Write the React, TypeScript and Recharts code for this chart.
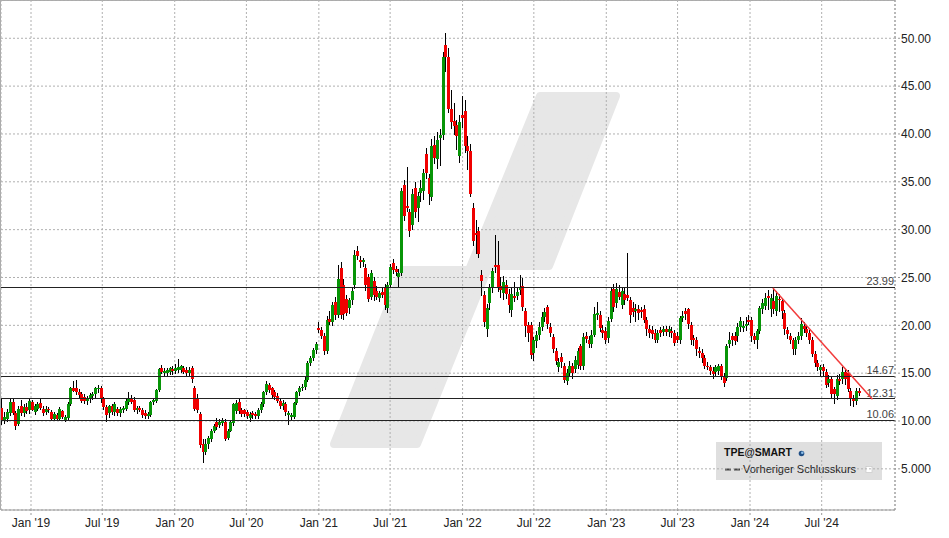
import React from 'react';
import { ComposedChart, Bar, XAxis, YAxis, CartesianGrid, ReferenceLine } from 'recharts';

const DAY = 86400000;
const WEEK = 7 * DAY;
const START = Date.UTC(2018, 9, 19);

const opens = [
  11.4, 10.1, 10.2, 10.8, 12.0, 10.8, 9.7, 11.6, 10.8, 11.5, 11.1, 12.0, 10.9, 11.3, 11.9, 11.3, 10.9, 11.3, 10.9, 10.2,
  10.6, 10.2, 11.0, 10.1, 10.3, 11.8, 13.5, 13.4, 13.0, 12.8, 12.5, 12.1, 12.3, 12.6, 12.8, 13.4, 13.5, 12.3, 11.5, 10.8,
  11.6, 10.9, 11.3, 10.8, 11.1, 11.3, 12.0, 12.4, 12.2, 11.1, 11.4, 11.2, 10.8, 10.5, 10.6, 12.0, 12.1, 13.2, 15.5, 15.0,
  15.0, 15.1, 15.4, 15.2, 15.3, 15.3, 15.5, 15.3, 15.0, 15.5, 13.5, 12.3, 10.7, 7.6, 6.8, 7.6, 8.1, 9.0, 9.9, 9.6,
  9.8, 9.9, 8.2, 9.0, 9.8, 11.0, 12.0, 11.1, 11.1, 10.9, 10.3, 10.8, 10.7, 10.5, 11.1, 11.8, 13.0, 13.8, 13.4, 13.0,
  12.6, 12.1, 11.6, 11.8, 10.6, 10.4, 10.4, 11.9, 13.0, 13.5, 13.6, 14.3, 16.1,
  16.6, 17.4, 19.7, 19.5, 18.9, 17.3, 20.7, 20.4, 22.4, 21.1, 26.0, 24.2, 22.7, 21.8, 22.6, 24.2, 27.8, 26.8, 26.6, 26.0,
  25.1, 23.0, 24.6, 23.6, 22.9, 23.5, 23.9, 21.8, 24.2, 26.5, 25.9, 25.1, 25.5, 34.7, 32.5, 31.8, 30.5, 34.4, 32.3, 33.8,
  34.0, 37.9, 35.4, 33.4, 38.8, 37.4, 39.6, 39.9, 49.3, 48.0, 42.6, 41.4, 40.9, 37.7, 42.0, 42.4, 38.7, 38.2, 32.3, 29.6,
  29.9, 25.3, 23.2, 19.6, 22.3, 23.9, 26.3, 26.3, 24.1, 23.4, 24.2, 23.3, 21.6, 23.1, 23.1, 23.7, 24.1, 21.5, 20.0, 20.0,
  17.1, 18.4, 19.0, 19.8, 20.9, 21.9, 19.8, 18.8, 17.3, 15.6, 16.7, 15.8, 14.2, 15.0, 15.7, 15.4, 15.9, 17.8, 15.7, 18.9,
  18.5, 18.0, 19.0, 21.1, 21.1, 19.5, 19.4, 18.7, 20.7, 23.8, 22.3, 23.5, 22.1, 23.3, 23.2, 22.6, 21.8,
  21.5, 21.7, 21.6, 21.7, 20.6, 19.6, 19.5, 19.2, 18.5, 19.5, 19.3, 19.6, 19.3, 19.4, 19.2, 18.9, 18.5, 20.8, 21.5, 21.7,
  20.0, 18.7, 18.5, 17.3, 17.1, 16.6, 15.8, 15.6, 15.2, 15.1, 15.2, 15.8, 14.7, 14.5, 18.0, 18.9, 18.9, 18.9, 19.8, 19.8,
  19.9, 20.6, 20.6, 18.9, 18.5, 19.4, 21.7, 22.0, 23.1, 21.7, 22.5, 21.5, 22.8, 22.5, 21.3, 19.5, 18.9, 18.5, 17.5, 18.5,
  18.9, 19.9, 19.6, 19.2, 18.5, 17.0, 16.1, 15.3, 15.6, 15.1, 14.0, 14.4, 13.3, 12.6, 14.4, 14.4, 15.1, 15.0, 13.1, 12.4,
  12.1, 13.1,
];

const highs = [
  12.3, 10.9, 11.3, 12.4, 12.3, 11.0, 11.6, 12.2, 11.8, 11.9, 12.4, 12.2, 11.8, 12.0, 12.4, 11.6, 11.6, 11.5, 11.1, 10.9,
  10.8, 11.5, 11.2, 10.6, 12.0, 13.6, 14.2, 14.3, 13.3, 13.0, 12.8, 12.6, 12.9, 13.0, 13.6, 13.8, 13.7, 12.5, 11.7, 11.7,
  11.8, 12.0, 11.5, 11.5, 11.6, 12.3, 13.0, 12.7, 12.5, 11.6, 11.6, 11.4, 11.1, 10.9, 12.1, 12.4, 13.3, 15.5, 15.9, 15.5,
  15.5, 15.6, 15.8, 16.0, 16.5, 15.9, 15.8, 15.6, 15.6, 15.7, 13.7, 12.8, 10.9, 8.1, 8.1, 8.4, 9.2, 9.7, 10.3, 10.2,
  10.3, 10.2, 9.2, 10.1, 11.9, 12.2, 12.3, 11.4, 11.3, 11.1, 10.9, 11.0, 10.9, 11.4, 12.0, 13.1, 14.2, 14.0, 13.6, 13.2,
  12.9, 12.4, 12.2, 12.0, 11.0, 10.8, 12.0, 13.1, 13.7, 13.9, 14.6, 16.3, 16.8,
  17.6, 18.3, 20.3, 19.8, 19.2, 21.0, 21.5, 22.4, 23.0, 26.3, 26.6, 24.8, 23.2, 22.9, 24.0, 27.9, 28.3, 27.2, 27.0, 26.4,
  25.4, 25.8, 25.0, 24.1, 23.6, 24.0, 24.3, 24.5, 26.4, 26.9, 26.2, 25.9, 34.3, 35.2, 36.5, 32.2, 34.2, 35.0, 33.9, 35.2,
  36.3, 38.5, 35.8, 39.5, 39.8, 40.2, 40.5, 48.6, 50.6, 49.0, 44.6, 43.2, 41.5, 42.0, 44.0, 43.5, 39.8, 38.9, 32.8, 31.0,
  30.3, 25.8, 23.6, 22.2, 24.3, 26.0, 29.4, 28.8, 25.0, 25.2, 24.7, 23.8, 23.9, 24.5, 24.0, 25.3, 24.9, 21.8, 20.4, 20.3,
  18.8, 19.4, 20.3, 21.4, 21.8, 22.1, 20.2, 19.1, 17.6, 16.6, 17.1, 16.1, 15.4, 16.3, 16.1, 16.8, 17.6, 18.1, 19.2, 19.3,
  18.9, 19.5, 21.9, 22.4, 21.5, 20.0, 19.8, 20.9, 24.0, 24.3, 24.4, 24.2, 24.0, 23.9, 27.6, 23.0, 22.4,
  22.2, 22.1, 21.9, 22.1, 20.9, 20.0, 19.9, 19.6, 19.5, 19.8, 19.9, 19.9, 19.9, 19.8, 19.5, 19.3, 21.0, 21.5, 21.8, 21.8,
  20.3, 19.0, 18.8, 17.7, 17.5, 16.9, 16.2, 15.9, 15.6, 15.9, 16.0, 16.0, 15.0, 18.0, 19.3, 19.2, 19.3, 20.2, 20.9, 20.5,
  20.9, 21.1, 20.9, 19.2, 19.6, 22.0, 22.7, 23.4, 23.7, 23.3, 23.9, 23.6, 23.3, 22.9, 21.6, 19.8, 19.2, 18.7, 18.8, 19.3,
  20.8, 20.4, 19.9, 19.5, 18.8, 17.3, 16.4, 15.9, 16.0, 15.4, 14.8, 14.7, 13.6, 14.8, 14.9, 15.6, 15.3, 15.3, 13.4, 12.7,
  13.5, 13.4,
];

const lows = [
  9.6, 9.7, 9.9, 10.5, 10.6, 9.1, 9.5, 10.5, 10.4, 10.7, 10.7, 11.0, 10.6, 11.0, 11.2, 10.5, 10.6, 10.8, 10.0, 10.0,
  10.0, 10.0, 10.2, 9.9, 10.1, 11.6, 13.0, 12.7, 12.3, 11.9, 11.8, 11.7, 11.9, 12.2, 12.4, 12.9, 11.9, 11.2, 9.9, 10.3,
  10.6, 10.5, 10.5, 10.4, 10.8, 11.0, 11.7, 11.8, 10.9, 10.7, 10.9, 10.3, 10.2, 10.2, 10.4, 11.7, 11.9, 13.0, 14.9, 14.6,
  14.7, 14.8, 14.8, 14.9, 15.0, 15.0, 14.9, 14.7, 14.6, 14.0, 11.0, 10.8, 7.2, 5.6, 6.4, 7.1, 7.8, 8.7, 9.1, 9.3,
  9.5, 7.9, 8.0, 8.8, 9.5, 10.7, 10.7, 10.4, 10.4, 10.2, 9.9, 10.2, 10.2, 10.2, 10.8, 11.5, 12.7, 12.9, 12.4, 12.2,
  11.9, 11.3, 11.1, 10.5, 9.6, 10.0, 10.2, 11.7, 12.6, 13.1, 13.2, 14.1, 15.8,
  16.3, 17.0, 19.2, 18.6, 16.9, 17.0, 20.0, 19.9, 20.6, 20.8, 20.7, 20.6, 21.0, 21.2, 22.1, 23.8, 26.8, 26.0, 26.1, 23.6,
  22.4, 22.6, 22.5, 22.6, 22.4, 22.9, 21.6, 21.3, 23.9, 25.4, 25.2, 23.9, 25.2, 30.9, 31.8, 29.2, 30.0, 31.2, 30.8, 32.9,
  33.1, 35.3, 32.6, 33.0, 36.9, 36.3, 36.7, 39.4, 46.5, 42.2, 40.5, 39.9, 38.3, 37.0, 40.6, 38.0, 36.2, 33.4, 28.3, 27.5,
  27.0, 23.1, 19.8, 18.8, 21.6, 23.4, 25.5, 23.5, 22.9, 22.6, 22.8, 21.3, 20.9, 22.4, 22.6, 23.2, 21.5, 18.8, 18.3, 16.5,
  16.3, 17.6, 18.5, 19.4, 20.3, 19.6, 18.8, 17.1, 15.9, 15.1, 15.5, 14.0, 13.8, 14.6, 14.4, 15.0, 15.4, 15.3, 15.3, 18.2,
  17.6, 17.6, 18.8, 20.6, 19.3, 18.7, 18.0, 18.2, 20.4, 21.4, 21.8, 22.6, 21.7, 22.1, 22.5, 20.2, 20.9,
  20.4, 20.6, 20.8, 20.2, 18.9, 18.7, 18.6, 18.2, 18.2, 18.8, 18.9, 18.9, 18.8, 18.7, 17.8, 18.2, 18.1, 20.3, 20.6, 19.6,
  17.9, 17.8, 16.8, 16.6, 16.1, 15.4, 15.3, 14.8, 14.4, 14.7, 14.8, 14.3, 13.6, 14.2, 17.6, 17.8, 17.9, 18.3, 19.3, 19.3,
  19.4, 20.0, 18.3, 18.0, 17.5, 19.1, 21.2, 21.6, 21.6, 20.9, 21.2, 21.0, 21.4, 20.7, 19.0, 18.6, 18.1, 16.9, 16.9, 18.1,
  18.5, 19.2, 18.8, 18.1, 16.7, 15.6, 15.2, 14.7, 14.7, 13.4, 13.6, 12.4, 11.8, 12.2, 13.8, 13.9, 13.8, 13.0, 11.6, 11.5,
  11.7, 12.6,
];

const closes = [
  10.1, 10.4, 10.9, 12.0, 10.8, 9.5, 11.3, 10.8, 11.5, 11.0, 12.1, 11.2, 11.6, 11.8, 11.4, 10.8, 11.3, 11.1, 10.2, 10.7,
  10.2, 11.3, 10.4, 10.4, 11.8, 13.5, 13.1, 13.0, 12.7, 12.1, 12.1, 12.3, 12.7, 12.8, 13.4, 13.5, 12.3, 11.5, 10.6, 11.6,
  10.9, 11.8, 10.8, 11.3, 11.4, 12.1, 12.4, 12.0, 11.1, 11.4, 11.1, 10.6, 10.5, 10.7, 12.0, 12.2, 13.2, 15.4, 15.1, 15.2,
  15.3, 15.5, 15.2, 15.5, 15.6, 15.7, 15.1, 15.0, 15.3, 14.4, 11.3, 11.1, 7.5, 6.8, 7.6, 8.2, 9.0, 9.5, 9.4, 9.9,
  10.0, 8.1, 9.0, 9.9, 11.8, 11.9, 11.0, 10.7, 10.7, 10.5, 10.7, 10.6, 10.5, 11.1, 11.8, 13.0, 13.9, 13.2, 12.7, 12.5,
  12.1, 11.6, 11.9, 10.9, 10.8, 10.6, 11.9, 13.0, 13.5, 13.6, 14.3, 16.1, 16.6,
  17.4, 18.1, 19.5, 18.9, 17.3, 20.6, 20.4, 22.1, 21.1, 24.8, 21.1, 21.2, 21.3, 22.6, 23.6, 27.4, 27.2, 26.6, 26.8, 24.2,
  22.8, 25.5, 23.2, 23.0, 23.4, 23.2, 22.1, 24.2, 26.1, 25.8, 25.6, 25.5, 34.0, 31.4, 32.3, 29.9, 33.7, 31.8, 33.5, 34.3,
  35.9, 35.9, 33.7, 38.7, 37.5, 39.4, 39.9, 48.0, 48.0, 42.6, 41.3, 40.8, 39.8, 41.3, 41.7, 38.7, 38.2, 33.7, 28.8, 29.5,
  27.5, 24.6, 20.4, 21.8, 24.0, 25.7, 26.1, 23.9, 23.7, 24.5, 23.3, 22.1, 23.3, 22.9, 23.5, 24.0, 21.9, 19.9, 19.2, 16.9,
  18.5, 19.0, 19.8, 20.9, 21.4, 20.1, 19.2, 17.5, 16.3, 16.2, 16.2, 14.3, 15.0, 15.8, 15.0, 16.4, 17.3, 15.7, 18.8, 18.6,
  18.0, 19.0, 21.2, 21.3, 19.7, 19.2, 18.5, 20.5, 23.6, 21.9, 23.8, 23.0, 23.6, 22.6, 22.9, 21.1, 21.4,
  21.7, 21.3, 21.5, 20.6, 19.6, 19.2, 19.1, 18.5, 19.2, 19.2, 19.6, 19.3, 19.6, 19.2, 18.2, 18.5, 20.8, 21.0, 21.2, 20.1,
  18.5, 18.5, 17.5, 17.1, 16.6, 15.8, 15.6, 15.2, 14.9, 15.6, 15.8, 14.7, 14.0, 17.8, 18.5, 18.5, 18.4, 19.8, 20.5, 19.9,
  20.1, 20.4, 18.9, 18.5, 19.4, 21.8, 22.3, 22.9, 22.9, 22.9, 21.7, 23.1, 22.6, 21.5, 19.6, 19.1, 18.5, 17.5, 18.5, 18.9,
  20.1, 19.6, 19.2, 18.5, 17.0, 16.1, 15.6, 15.6, 15.2, 13.8, 14.4, 12.8, 12.8, 14.4, 14.2, 15.1, 14.4, 13.3, 12.3, 12.1,
  13.1, 12.9,
];

const xTicks = [
  Date.UTC(2019, 0, 1), Date.UTC(2019, 6, 1), Date.UTC(2020, 0, 1), Date.UTC(2020, 6, 1),
  Date.UTC(2021, 0, 1), Date.UTC(2021, 6, 1), Date.UTC(2022, 0, 1), Date.UTC(2022, 6, 1),
  Date.UTC(2023, 0, 1), Date.UTC(2023, 6, 1), Date.UTC(2024, 0, 1), Date.UTC(2024, 6, 1),
];
const xTickLabels = [
  "Jan '19", "Jul '19", "Jan '20", "Jul '20", "Jan '21", "Jul '21",
  "Jan '22", "Jul '22", "Jan '23", "Jul '23", "Jan '24", "Jul '24",
];
const yTicks = [5, 10, 15, 20, 25, 30, 35, 40, 45, 50];
const levels = [23.99, 14.67, 12.31, 10.06];
const trendStart = { date: Date.UTC(2024, 1, 28), value: 23.9 };
const trendEnd = { date: Date.UTC(2024, 10, 7), value: 12.27 };

const xDomain = [Date.UTC(2019, 0, 1) - 76.2 * DAY, Date.UTC(2024, 0, 1) + 368.2 * DAY];
const yDomain = [0.7, 54];

const rows = opens.map((o, i) => ({
  t: START + i * WEEK,
  open: o,
  high: highs[i],
  low: lows[i],
  close: closes[i],
}));

const FONT = '"Liberation Sans", Arial, sans-serif';
const RED = '#f00000';
const GREEN = '#079507';

function Candle(props: any) {
  const { x, y, width, height, payload } = props;
  if (x == null || y == null || !payload) return null;
  const { open, close, high, low } = payload;
  const cx = Math.round(x + width / 2);
  const span = high - low;
  const k = span > 0 ? height / span : 0;
  const top = y + (high - Math.max(open, close)) * k;
  const bot = y + (high - Math.min(open, close)) * k;
  const bh = Math.max(1.5, bot - top);
  const color = close >= open ? GREEN : RED;
  return (
    <g shapeRendering="crispEdges">
      <rect x={cx} y={y} width={1} height={Math.max(1, height)} fill="#000" />
      <rect x={cx - 1} y={top} width={3} height={bh} fill={color} />
    </g>
  );
}

function LevelLabel(props: any) {
  const { viewBox, text } = props;
  if (!viewBox) return null;
  return (
    <text
      x={viewBox.x + viewBox.width - 1}
      y={viewBox.y - 2}
      textAnchor="end"
      fontSize={11}
      fontFamily={FONT}
      fill="#444"
    >
      {text}
    </text>
  );
}

function Background() {
  return (
    <svg width={949} height={538} style={{ position: 'absolute', left: 0, top: 0 }}>
      <polygon
        points="540,96 616,96 549,266 489,266 417,444 334,444 403,270 469,270"
        fill="#e7e7e7"
        stroke="#e7e7e7"
        strokeWidth={8}
        strokeLinejoin="round"
      />
      <line x1={0.5} y1={0} x2={0.5} y2={510} stroke="#aaa" />
      <line x1={0} y1={0.5} x2={895} y2={0.5} stroke="#aaa" />
      <rect x={716} y={442} width={166} height={38} fill="#dfdfdf" />
      <text x={724} y={456} fontSize={10.5} fontWeight="bold" fontFamily={FONT} fill="#111">TPE@SMART</text>
      <circle cx={801.5} cy={453.5} r={2.8} fill="#1f4f86" />
      <circle cx={802.3} cy={452.8} r={1.3} fill="#8fc0ea" />
      <line x1={725} y1={469.5} x2={731} y2={469.5} stroke="#444" strokeWidth={2} />
      <line x1={734} y1={469.5} x2={740} y2={469.5} stroke="#444" strokeWidth={2} />
      <text x={743} y={473} fontSize={11} fontFamily={FONT} fill="#222">Vorheriger Schlusskurs</text>
      <rect x={866} y={466.5} width={6} height={6} fill="#fff" stroke="#ccc" strokeWidth={0.8} />
    </svg>
  );
}

export default function App() {
  return (
    <div style={{ position: 'absolute', left: 0, top: 0, width: 949, height: 538, background: '#fff' }}>
      <Background />
      <div style={{ position: 'absolute', left: 0, top: 0 }}>
        <ComposedChart
          width={949}
          height={538}
          data={rows}
          margin={{ top: 0, right: 0, bottom: 0, left: 1 }}
          style={{ fontFamily: FONT }}
        >
          <CartesianGrid stroke="#b0b0b0" strokeDasharray="2 2" />
          <XAxis
            type="number"
            dataKey="t"
            domain={xDomain}
            allowDataOverflow
            ticks={xTicks}
            interval={0}
            tickFormatter={(v: number) => xTickLabels[xTicks.indexOf(v)] ?? ''}
            height={28}
            tickSize={5}
            tickMargin={3}
            axisLine={{ stroke: '#999' }}
            tickLine={{ stroke: '#999', strokeDasharray: '2 2' }}
            tick={{ fontSize: 12, fill: '#222', fontFamily: FONT }}
          />
          <YAxis
            orientation="right"
            type="number"
            domain={yDomain}
            allowDataOverflow
            ticks={yTicks}
            interval={0}
            width={54}
            tickSize={5}
            tickMargin={1}
            tickFormatter={(v: number) => (v === 5 ? '5.000' : v.toFixed(2))}
            axisLine={{ stroke: '#999', strokeDasharray: '2 2' }}
            tickLine={{ stroke: '#999', strokeDasharray: '2 2' }}
            tick={{ fontSize: 12, fill: '#222', fontFamily: FONT }}
          />
          {levels.map((lv) => (
            <ReferenceLine
              key={lv}
              y={lv}
              stroke="#222"
              strokeWidth={1}
              shapeRendering="crispEdges"
              label={<LevelLabel text={lv.toFixed(2)} />}
            />
          ))}
          <Bar
            dataKey={(d: any) => [d.low, d.high]}
            barSize={2}
            shape={<Candle />}
            isAnimationActive={false}
          />
          <ReferenceLine
            segment={[
              { x: trendStart.date, y: trendStart.value },
              { x: trendEnd.date, y: trendEnd.value },
            ]}
            stroke="#f23b3b"
            strokeWidth={1.5}
          />
        </ComposedChart>
      </div>
    </div>
  );
}
